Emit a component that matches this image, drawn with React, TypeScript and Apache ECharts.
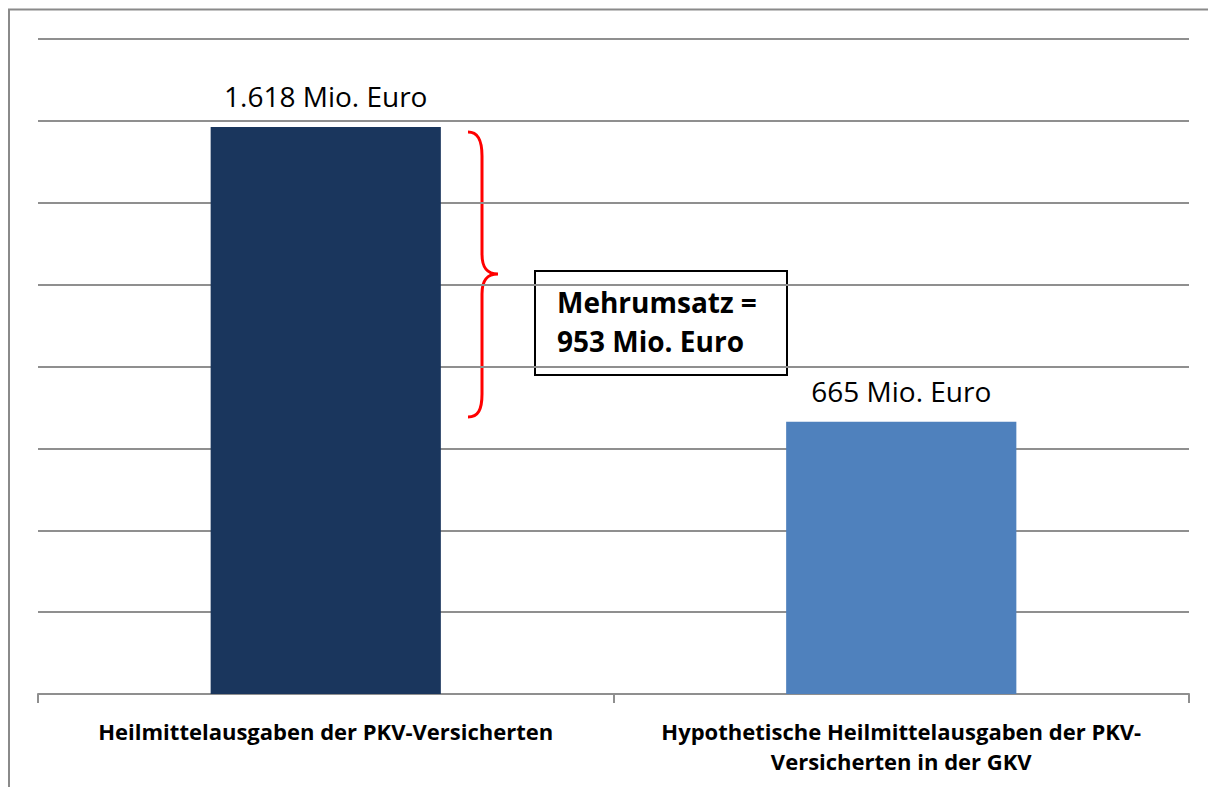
import React, { useEffect, useRef } from "react";
import * as echarts from "echarts";

// Categories (x axis)
const categories = [
  "Heilmittelausgaben der PKV-Versicherten",
  "Hypothetische Heilmittelausgaben der PKV-\nVersicherten in der GKV",
];
// Bar heights as drawn in the picture (y axis units, gridlines every 200)
const barValues = [1385, 665];
// Value labels printed above the bars
const valueLabels = ["1.618 Mio. Euro", "665 Mio. Euro"];
const barColors = ["#1a365d", "#4f81bd"];
// Annotation text
const annotationLines = ["Mehrumsatz =", "953 Mio. Euro"];

const yMin = 0;
const yMax = 1600;
const yInterval = 200;

const bracePath =
  "M468,132 C478,132 482,140 482,156 L482,254 C482,268 487,274 498,274 C487,274 482,280 482,294 L482,394 C482,410 478,417 468,417";

let registered = false;
function ensureShape() {
  if (registered) return;
  echarts.graphic.registerShape("brace", echarts.graphic.extendPath(bracePath, {}) as any);
  registered = true;
}

const FONT = "'Open Sans', 'Liberation Sans', sans-serif";

export default function App() {
  const ref = useRef<HTMLDivElement>(null);
  useEffect(() => {
    if (!ref.current) return;
    ensureShape();
    const chart = echarts.init(ref.current, null, { renderer: "svg" });
    chart.setOption({
      animation: false,
      backgroundColor: "#ffffff",
      grid: { left: 38, right: 19, top: 39, bottom: 93, containLabel: false },
      xAxis: {
        type: "category",
        data: categories,
        axisLine: { show: true, lineStyle: { color: "#8f8f8f", width: 2 } },
        axisTick: { show: true, length: 9, lineStyle: { color: "#8f8f8f", width: 2 } },
        axisLabel: {
          interval: 0,
          margin: 22,
          color: "#000000",
          fontFamily: FONT,
          fontWeight: "bold",
          fontSize: 22,
          lineHeight: 30,
          align: "center",
        },
      },
      yAxis: {
        type: "value",
        min: yMin,
        max: yMax,
        interval: yInterval,
        axisLine: { show: false },
        axisTick: { show: false },
        axisLabel: { show: false },
        splitLine: { show: true, lineStyle: { color: "#8f8f8f", width: 2 } },
      },
      series: [
        {
          type: "bar",
          barWidth: "40%",
          data: barValues.map((v, i) => ({ value: v, itemStyle: { color: barColors[i] } })),
          label: {
            show: true,
            position: "top",
            distance: 17,
            color: "#000000",
            fontFamily: FONT,
            fontSize: 28,
            formatter: (p: any) => valueLabels[p.dataIndex],
          },
        },
      ],
      graphic: [
        {
          type: "rect",
          silent: true,
          shape: { x: 9, y: 9.5, width: 1220, height: 800 },
          style: { fill: "none", stroke: "#8a8a8a", lineWidth: 2 },
        },
        {
          type: "brace",
          x: 0,
          y: 0,
          silent: true,
          style: { fill: "none", stroke: "#ff0000", lineWidth: 3 },
        },
        {
          type: "rect",
          silent: true,
          shape: { x: 535, y: 271, width: 252, height: 104 },
          style: { fill: "#ffffff", stroke: "#000000", lineWidth: 2 },
        },
        {
          type: "text",
          silent: true,
          x: 557,
          y: 302,
          style: {
            text: annotationLines[0],
            fill: "#000000",
            font: `bold 28px ${FONT}`,
            verticalAlign: "middle",
            align: "left",
          },
        },
        {
          type: "text",
          silent: true,
          x: 557,
          y: 341,
          style: {
            text: annotationLines[1],
            fill: "#000000",
            font: `bold 28px ${FONT}`,
            verticalAlign: "middle",
            align: "left",
          },
        },
      ],
    });
    return () => chart.dispose();
  }, []);
  return (
    <div
      ref={ref}
      style={{ position: "fixed", left: 0, top: 0, width: 1208, height: 787, background: "#fff" }}
    />
  );
}
